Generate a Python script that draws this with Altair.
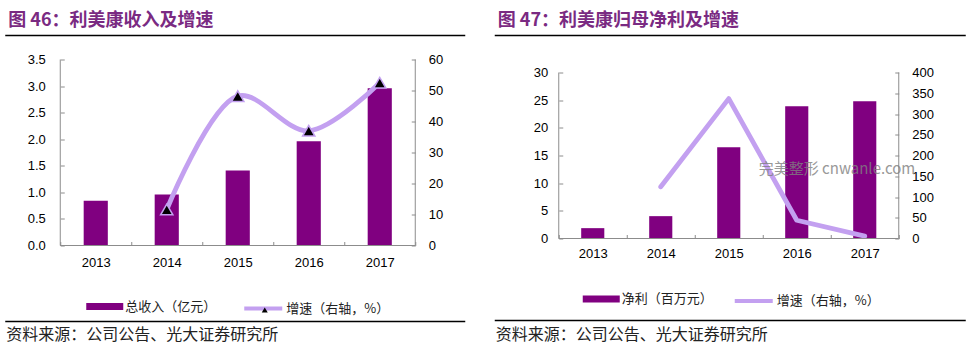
import altair as alt
import pandas as pd

# ---------------- data ----------------
years = ["2013", "2014", "2015", "2016", "2017"]
revenue = [0.84, 0.96, 1.41, 1.96, 2.96]          # 总收入（亿元）
revenue_growth = [None, 11.6, 48.2, 37.0, 52.5]    # 增速（右轴，%）
profit = [1.87, 4.04, 16.5, 23.9, 24.8]            # 净利（百万元）
profit_growth = [None, 124.5, 337.0, 44.0, 5.6]    # 增速（右轴，%）

left_title = "图 46：利美康收入及增速"
right_title = "图 47：利美康归母净利及增速"
left_bar_name = "总收入（亿元）"
right_bar_name = "净利（百万元）"
growth_name = "增速（右轴，%）"
marker_name = "▲"
source_text = "资料来源：公司公告、光大证券研究所"
watermark = "完美整形 cnwanle.com"

left_y_ticks = [0, 0.5, 1.0, 1.5, 2.0, 2.5, 3.0, 3.5]
left_y2_ticks = [0, 10, 20, 30, 40, 50, 60]
right_y_ticks = [0, 5, 10, 15, 20, 25, 30]
right_y2_ticks = [0, 50, 100, 150, 200, 250, 300, 350, 400]

# ---------------- style ----------------
PURPLE = "#800080"
LAV = "#C3A0F0"
TITLE_COLOR = "#7A2A82"
AXIS_GRAY = "#8C8C8C"
CJK = "Noto Sans CJK SC"
LAT = "Liberation Sans"

one = pd.DataFrame({"k": [0]})


def hrule(x1, x2, y, sw=1.5, color="#000000"):
    return alt.Chart(one).mark_rule(color=color, strokeWidth=sw).encode(
        x=alt.value(x1), x2=alt.value(x2), y=alt.value(y))


def vrule(x, y1, y2, sw=1, color=AXIS_GRAY):
    return alt.Chart(one).mark_rule(color=color, strokeWidth=sw).encode(
        x=alt.value(x), y=alt.value(y1), y2=alt.value(y2))


def label(text, x, y, size, color="#222222", weight="normal", font=CJK, opacity=1.0):
    return alt.Chart(one).mark_text(
        text=text, align="left", baseline="middle", font=font, fontSize=size,
        fontWeight=weight, color=color, opacity=opacity).encode(
        x=alt.value(x), y=alt.value(y))


def legend(x, y, **kw):
    base = dict(orient="none", legendX=x, legendY=y, title=None, padding=0,
                labelFont=CJK, labelFontSize=13, labelColor="#222222", labelOffset=2)
    base.update(kw)
    return alt.Legend(**base)


def panel(W, H, top, bars, growth, bar_name, y_ticks, y2_ticks, smooth, markers,
          title, tx, ty, rule_x1, rule_x2, rule_top, rule_bot, src_y,
          leg_bar, leg_line, xpad, lpad, rpad, extra=None):
    df = pd.DataFrame({"year": years, "v": bars, "g": growth})
    x_enc = alt.X("year:N", sort=years,
                  scale=alt.Scale(paddingInner=0, paddingOuter=0),
                  axis=alt.Axis(title=None, labelAngle=0, tickBand="extent",
                                offset=-4, tickSize=4, domain=False,
                                tickColor=AXIS_GRAY, labelPadding=xpad,
                                labelFont=LAT, labelFontSize=13, labelColor="#000000",
                                grid=False))
    bar = alt.Chart(df).transform_calculate(s1=f"'{bar_name}'").mark_bar(
        width=alt.RelativeBandSize(0.34)).encode(
        x=x_enc,
        y=alt.Y("v:Q", scale=alt.Scale(domain=[y_ticks[0], y_ticks[-1]], nice=False,
                                       range=[H, top]),
                axis=alt.Axis(title=None, orient="left", values=y_ticks,
                              format=".1f" if y_ticks[-1] < 10 else "d",
                              offset=-4, tickSize=4, domain=False, grid=False,
                              tickColor=AXIS_GRAY, labelPadding=lpad,
                              labelFont=LAT, labelFontSize=13, labelColor="#000000")),
        fill=alt.Fill("s1:N", scale=alt.Scale(domain=[bar_name], range=[PURPLE]),
                      legend=legend(leg_bar[0], leg_bar[1],
                                    symbolType="M-1,-0.19H1V0.19H-1Z",
                                    symbolSize=1369, symbolStrokeWidth=0)),
    )
    y2 = alt.Y("g:Q", scale=alt.Scale(domain=[y2_ticks[0], y2_ticks[-1]], nice=False,
                                      range=[H, top]),
               axis=alt.Axis(title=None, orient="right", values=y2_ticks, format="d",
                             offset=-4, tickSize=4, domain=False, grid=False,
                             tickColor=AXIS_GRAY, labelPadding=rpad,
                             labelFont=LAT, labelFontSize=13, labelColor="#000000"))
    line = alt.Chart(df).transform_filter("datum.g != null").transform_calculate(
        s2=f"'{growth_name}'").mark_line(
        strokeWidth=4.8, interpolate="catmull-rom" if smooth else "linear",
        strokeCap="round", strokeJoin="round").encode(
        x=alt.X("year:N", sort=years),
        y=y2,
        stroke=alt.Stroke("s2:N", scale=alt.Scale(domain=[growth_name], range=[LAV]),
                          legend=legend(leg_line[0], leg_line[1], symbolType="stroke",
                                        symbolSize=1444, symbolStrokeWidth=4)),
    )
    right_layers = [line]
    if markers:
        pts = alt.Chart(df).transform_filter("datum.g != null").transform_calculate(
            s3=f"'{marker_name}'").mark_point(
            filled=True, size=150, fill="#000000", stroke=LAV, strokeWidth=1.5,
            opacity=1).encode(
            x=alt.X("year:N", sort=years),
            y=y2,
            shape=alt.Shape("s3:N", scale=alt.Scale(domain=[marker_name], range=["triangle-up"]),
                            legend=legend(leg_line[0] + 16, leg_line[1] + 16,
                                          symbolSize=36, symbolFillColor="#000000",
                                          symbolStrokeColor="#000000", symbolStrokeWidth=0,
                                          labelExpr="''")),
        )
        right_layers.append(pts)
    data_layer = alt.layer(bar, alt.layer(*right_layers)).resolve_scale(y="independent")
    deco = [
        vrule(0, top, H), vrule(W, top, H), hrule(0, W, H, sw=1, color=AXIS_GRAY),
        hrule(rule_x1, rule_x2, rule_top), hrule(rule_x1, rule_x2, rule_bot),
        label(title, tx, ty, 18, color=TITLE_COLOR, weight="bold"),
        label(source_text, tx - 2, src_y, 16),
    ]
    if extra is not None:
        deco.append(extra)
    return alt.layer(data_layer, *deco).resolve_scale(y="independent").properties(
        width=W, height=H)


left = panel(W=355, H=186, top=0, bars=revenue, growth=revenue_growth, bar_name=left_bar_name,
             y_ticks=left_y_ticks, y2_ticks=left_y2_ticks, smooth=True, markers=True,
             title=left_title, tx=-52, ty=-39, rule_x1=-55, rule_x2=405,
             rule_top=-24, rule_bot=262, src_y=275,
             leg_bar=(26, 228.5), leg_line=(182, 228), xpad=11, lpad=15, rpad=13)

right = panel(W=340, H=179, top=13, bars=profit, growth=profit_growth, bar_name=right_bar_name,
              y_ticks=right_y_ticks, y2_ticks=right_y2_ticks, smooth=False, markers=False,
              title=right_title, tx=-61, ty=-39, rule_x1=-64, rule_x2=407,
              rule_top=-24, rule_bot=261, src_y=275,
              leg_bar=(24, 221), leg_line=(174, 220.5), xpad=9, lpad=11, rpad=13,
              extra=label(watermark, 200, 109, 15, color="#808080", opacity=0.8))

chart = alt.hconcat(left, right, spacing=27.5).resolve_scale(
    fill="independent", stroke="independent", shape="independent"
).resolve_legend(
    fill="independent", stroke="independent", shape="independent"
).properties(
    padding={"left": 4.25, "top": 11.5, "right": 5, "bottom": 5},
    background="#ffffff",
).configure_view(strokeWidth=0).configure_axis(grid=False)

chart.save("out.html", embed_options={"renderer": "svg", "actions": False})
